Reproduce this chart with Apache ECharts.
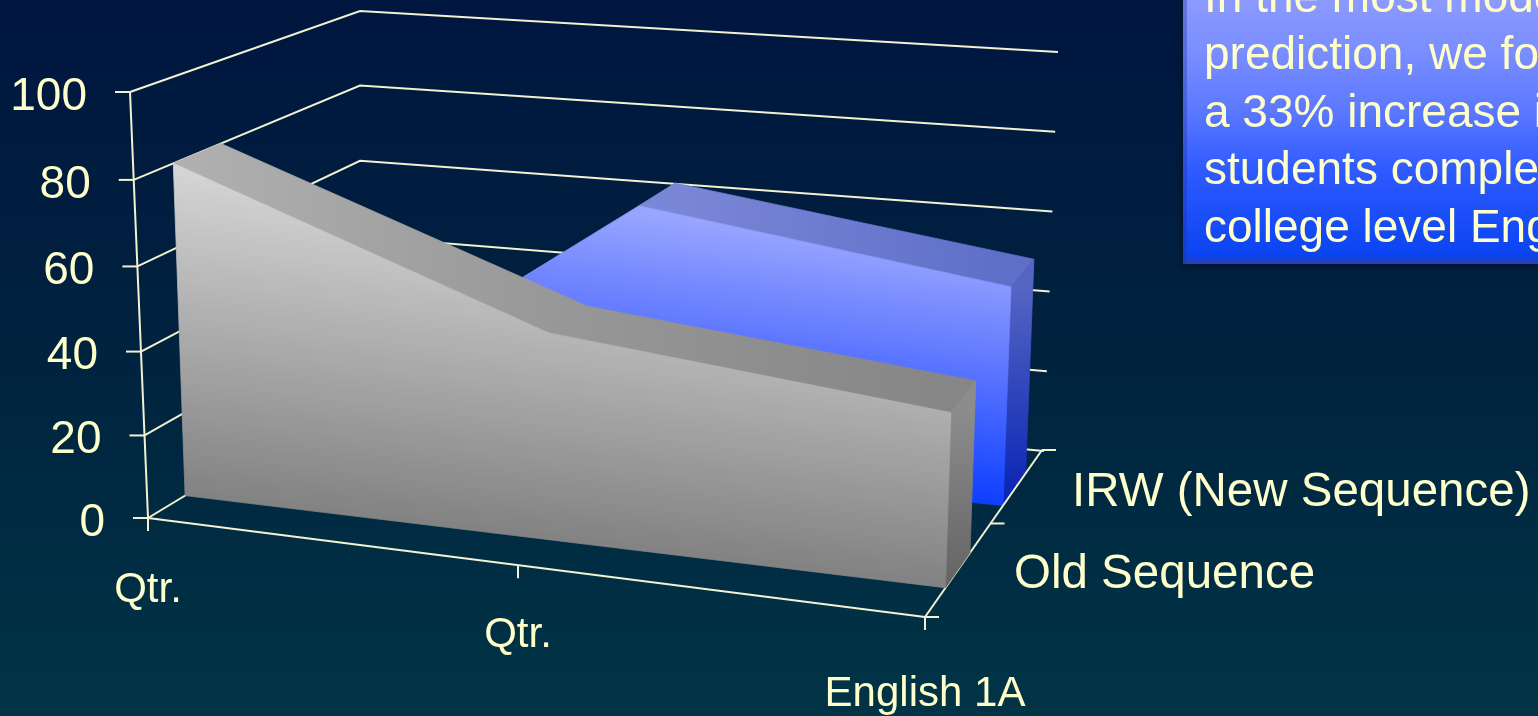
<!DOCTYPE html>
<html>
<head>
<meta charset="utf-8">
<style>html,body{margin:0;padding:0;background:#00233f;overflow:hidden}#chart{width:1538px;height:716px}</style>
<script src="https://cdn.jsdelivr.net/npm/echarts@6/dist/echarts.min.js"></script>
</head>
<body>
<div id="chart"></div>
<script>
// Chart values
const categories = ['Qtr.', 'Qtr.', 'English 1A'];
const oldSequence = [80, 49, 40.5];
const irwNewSequence = [3, 65, 53];
const valueTicks = [0, 20, 40, 60, 80, 100];
const depthLabels = ['Old Sequence', 'IRW (New Sequence)'];
const calloutLines = ['In the most moderate', 'prediction, we found', 'a 33% increase in', 'students completing', 'college level English'];

// Corners of the 3D plot box on screen: front/back, left/right, floor/ceiling
const BOX = {
  flb: [148, 518], flt: [130, 92],
  frb: [925, 617], frt: [938, 167],
  blb: [360, 390], blt: [360, 11],
  brb: [1042, 450], brt: [1058, 56]
};
const GRID_END_FLOOR = [1044, 451];
const GRID_END_TOP = [1058, 52];
const CREAM = '#FFFFCC';
const LINE = '#F2F2D0';
const FONT = '"Liberation Sans", Arial, sans-serif';

const lerp = (a, b, t) => [a[0] + (b[0] - a[0]) * t, a[1] + (b[1] - a[1]) * t];

// u: along the categories, v: depth, w: value height, each in 0..1.
// Both the floor and the height are foreshortened, more so near the viewer.
function project(u, v, w) {
  const k = 1.1 - 0.07 * v;
  const t = u / (u + k * (1 - u));
  const kh = 1.04 - 0.06 * v;
  const h = w / (w + kh * (1 - w));
  const floor = lerp(lerp(BOX.flb, BOX.frb, t), lerp(BOX.blb, BOX.brb, t), v);
  const top = lerp(lerp(BOX.flt, BOX.frt, t), lerp(BOX.blt, BOX.brt, t), v);
  return lerp(floor, top, h);
}

// Reads a (category index, value) pair through the chart's own scales
function scaled(api, coordSys, index, value) {
  const p = api.coord([index, value]);
  return [(p[0] - coordSys.x) / coordSys.width, (coordSys.y + coordSys.height - p[1]) / coordSys.height];
}

function linesOf(points) {
  return { type: 'polyline', shape: { points }, style: { stroke: LINE, lineWidth: 2, fill: null }, silent: true };
}
function label(text, x, y, size, align) {
  return { type: 'text', style: { text, x, y, fill: CREAM, font: size + 'px ' + FONT, align: align || 'center', verticalAlign: 'middle' }, silent: true };
}

// Splits a smooth ramp into flat steps, the banding of the shaded faces
function banded(stops, count) {
  const hex = c => [1, 3, 5].map(i => parseInt(c.substr(i, 2), 16));
  const colorAt = t => {
    let i = 0;
    while (i < stops.length - 2 && t > stops[i + 1].offset) i++;
    const a = stops[i], b = stops[i + 1];
    const f = (t - a.offset) / (b.offset - a.offset);
    const ca = hex(a.color), cb = hex(b.color);
    return 'rgb(' + ca.map((x, j) => Math.round(x + (cb[j] - x) * f)).join(',') + ')';
  };
  const out = [];
  for (let i = 0; i < count; i++) {
    const c = colorAt((i + 0.5) / count);
    out.push({ offset: i / count, color: c }, { offset: (i + 1) / count, color: c });
  }
  return out;
}

// Gradient running across lines of equal value, which tilt with the floor
function valueGradient(a, b, stops) {
  const slope = 0.12, nx = -slope / Math.hypot(1, slope), ny = 1 / Math.hypot(1, slope);
  const d = (b[0] - a[0]) * nx + (b[1] - a[1]) * ny;
  return new echarts.graphic.LinearGradient(a[0], a[1], a[0] + nx * d, a[1] + ny * d, stops, true);
}

function face(points, fill) {
  return { type: 'polygon', silent: true, shape: { points }, style: { fill, stroke: fill, lineWidth: 0.8, lineJoin: 'round' } };
}

// Extruded area band between two depths
function solidRenderer(values, vFront, vBack, look) {
  return function (params, api) {
    if (params.dataIndex !== 0) return null;
    const cs = params.coordSys;
    const n = values.length;
    const pts = values.map((val, i) => scaled(api, cs, i, val));
    const children = [];
    const P = (i, v, w) => project(pts[i][0], v, w);
    // Top facets
    const topFill = new echarts.graphic.LinearGradient(P(0, vFront, 0)[0], 0, P(n - 1, vFront, 0)[0], 0, look.top, true);
    for (let i = 0; i < n - 1; i++) {
      children.push(face([P(i, vFront, pts[i][1]), P(i + 1, vFront, pts[i + 1][1]), P(i + 1, vBack, pts[i + 1][1]), P(i, vBack, pts[i][1])], topFill));
    }
    // Right-hand end face
    const last = n - 1;
    children.push(face(
      [P(last, vFront, pts[last][1]), P(last, vBack, pts[last][1]), P(last, vBack, 0), P(last, vFront, 0)],
      new echarts.graphic.LinearGradient(0, P(last, vFront, pts[last][1])[1], 0, P(last, vFront, 0)[1], look.side, true)
    ));
    // Front face
    const outline = pts.map(p => project(p[0], vFront, p[1]));
    for (let i = n - 1; i >= 0; i--) outline.push(P(i, vFront, 0));
    const mid = Math.floor(n / 2);
    children.push(face(outline, valueGradient(P(mid, vFront, look.span), P(mid, vFront, 0), banded(look.front, 48))));
    return { type: 'group', children };
  };
}

// Walls, value axis, tick marks and value labels behind the solids
function backdrop(params, api) {
  const cs = params.coordSys;
  const children = [];
  valueTicks.forEach(tick => {
    const w = scaled(api, cs, 0, tick)[1];
    const front = project(0, 0, w);
    const backLeft = project(0, 1, w);
    const end = lerp(GRID_END_FLOOR, GRID_END_TOP, w);
    children.push(linesOf([front, backLeft, end]));
    children.push(linesOf([[front[0] - 15, front[1]], front]));
    children.push(label(String(tick), front[0] - 43, front[1] + 5, 46, 'right'));
  });
  children.push(linesOf([project(0, 0, 0), project(0, 0, 1)]));
  return { type: 'group', children };
}

// Floor axes in front of the plot box
function floorAxes(params, api) {
  const cs = params.coordSys;
  const children = [];
  const us = categories.map((c, i) => scaled(api, cs, i, 0)[0]);
  children.push(linesOf([project(us[0], 0, 0), project(us[us.length - 1], 0, 0)]));
  const labelDrop = [72, 70, 77];
  categories.forEach((c, i) => {
    const p = project(us[i], 0, 0);
    children.push(linesOf([p, [p[0], p[1] + 13]]));
    children.push(label(c, p[0], p[1] + labelDrop[i], 42));
  });
  const far = us[us.length - 1];
  const front = project(far, 0, 0), back = project(far, 1, 0);
  children.push(linesOf([front, back]));
  [0, 0.56, 1].forEach(v => {
    const p = lerp(front, back, v);
    children.push(linesOf([p, [p[0] + 14, p[1]]]));
  });
  children.push(label(depthLabels[0], 1014, 575, 47.5, 'left'));
  children.push(label(depthLabels[1], 1072, 493, 47.5, 'left'));
  return { type: 'group', children };
}

const GRAY_LOOK = {
  span: 0.8,
  front: [{ offset: 0, color: '#d8d8d8' }, { offset: 0.5, color: '#adadad' }, { offset: 1, color: '#828282' }],
  top: [{ offset: 0, color: '#b0b0b0' }, { offset: 0.5, color: '#979797' }, { offset: 1, color: '#868686' }],
  side: [{ offset: 0, color: '#8c8c8c' }, { offset: 1, color: '#636363' }]
};
const BLUE_LOOK = {
  span: 0.64,
  front: [{ offset: 0, color: '#9aa6ff' }, { offset: 0.45, color: '#5c76ff' }, { offset: 1, color: '#0a3cff' }],
  top: [{ offset: 0, color: '#8088d8' }, { offset: 0.55, color: '#7a86d6' }, { offset: 1, color: '#5f6fc8' }],
  side: [{ offset: 0, color: '#5565c4' }, { offset: 1, color: '#0722b4' }]
};

const toPairs = values => values.map((v, i) => [i, v]);

const chart = echarts.init(document.getElementById('chart'));
chart.setOption({
  animation: false,
  backgroundColor: new echarts.graphic.LinearGradient(0, 0, 0, 1, [
    { offset: 0, color: '#00163f' }, { offset: 0.5, color: '#00233f' }, { offset: 1, color: '#013446' }
  ]),
  grid: { left: 0, right: 0, top: 0, bottom: 0 },
  xAxis: { type: 'category', data: categories, boundaryGap: false, show: false },
  yAxis: { type: 'value', min: 0, max: 100, interval: 20, show: false },
  series: [
    { name: 'Axes', type: 'custom', coordinateSystem: 'cartesian2d', data: [[0, 0]], renderItem: backdrop, silent: true, z: 1, clip: false },
    { name: depthLabels[1], type: 'custom', coordinateSystem: 'cartesian2d', data: toPairs(irwNewSequence), renderItem: solidRenderer(irwNewSequence, 0.667, 0.86, BLUE_LOOK), silent: true, z: 2, clip: false },
    { name: 'Floor', type: 'custom', coordinateSystem: 'cartesian2d', data: [[0, 0]], renderItem: floorAxes, silent: true, z: 3, clip: false },
    { name: depthLabels[0], type: 'custom', coordinateSystem: 'cartesian2d', data: toPairs(oldSequence), renderItem: solidRenderer(oldSequence, 0.175, 0.385, GRAY_LOOK), silent: true, z: 4, clip: false }
  ],
  // Callout panel, running off the top and right of the slide
  graphic: [
    {
      type: 'rect', z: 10, silent: true,
      shape: { x: 1183, y: -20, width: 400, height: 284 },
      style: {
        fill: new echarts.graphic.LinearGradient(0, 0, 0, 1, [
          { offset: 0, color: '#949fff' }, { offset: 0.25, color: '#7a8eff' }, { offset: 0.46, color: '#5c78ff' },
          { offset: 0.67, color: '#2f5aff' }, { offset: 0.97, color: '#0a44f2' }, { offset: 1, color: '#2a3fa8' }
        ]),
        shadowBlur: 8, shadowColor: 'rgba(0,10,30,0.7)', shadowOffsetY: 2
      }
    },
    { type: 'rect', z: 11, silent: true, shape: { x: 1183, y: -20, width: 4, height: 284 }, style: { fill: 'rgba(30,50,150,0.35)' } },
    ...calloutLines.map((line, i) => ({
      type: 'text', z: 12, silent: true,
      style: { text: line, x: 1204, y: -24 + i * 57.5, fill: CREAM, font: '46px ' + FONT, align: 'left', verticalAlign: 'top' }
    }))
  ]
});
</script>
</body>
</html>
